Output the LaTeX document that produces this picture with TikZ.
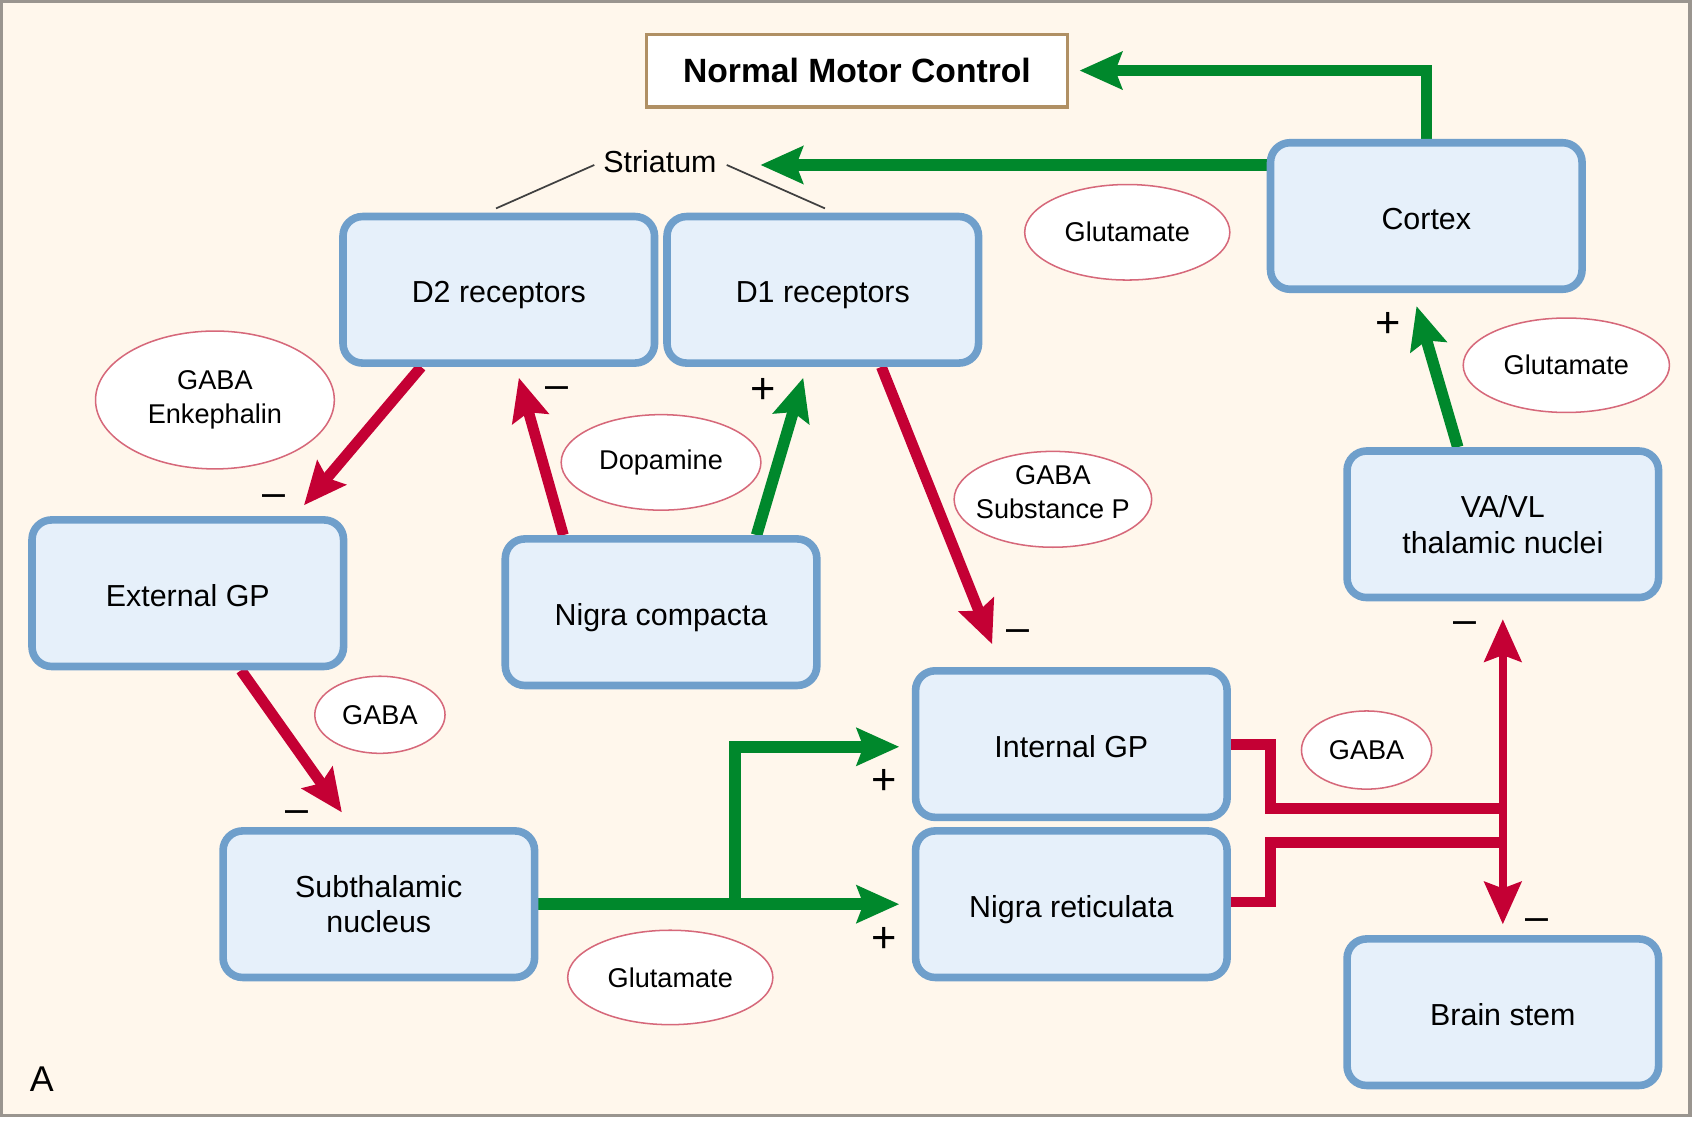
\documentclass[tikz,border=0pt]{standalone}
\usepackage{fontspec}
\setmainfont{Liberation Sans}
\usetikzlibrary{arrows.meta,calc,shapes.geometric}
\pgfdeclarelayer{bottom}
\pgfdeclarelayer{background}
\pgfsetlayers{bottom,background,main}
\definecolor{cream}{HTML}{FFF7EC}
\definecolor{boxfill}{HTML}{E6F0FA}
\definecolor{boxblue}{HTML}{6F9FCB}
\definecolor{ggreen}{HTML}{00882C}
\definecolor{rred}{HTML}{C40034}
\definecolor{ellred}{HTML}{D6687A}
\definecolor{tan}{HTML}{B09064}
\definecolor{framegrey}{HTML}{9A958F}
\tikzset{
  box/.style={draw=boxblue, line width=3.5pt, fill=boxfill, rounded corners=9pt,
    minimum width=143.5pt, minimum height=67.5pt, inner sep=0pt, align=center,
    font=\fontsize{14}{16.5}\selectfont},
  oneline/.style={text height=12pt, text depth=0pt},
  ell/.style={ellipse, draw=ellred, line width=0.7pt, fill=white, inner sep=0pt,
    align=center, font=\fontsize{12.5}{15.5}\selectfont},
  nmcbox/.style={draw=tan, line width=1.5pt, fill=white, minimum width=194pt,
    minimum height=33.5pt, inner sep=0pt, font=\bfseries\fontsize{15.5}{18}\selectfont},
  plussign/.style={inner sep=0pt, font=\fontsize{20}{20}\selectfont},
  minussign/.style={inner sep=0pt, font=\fontsize{19}{19}\selectfont},
  thinline/.style={draw=black!75, line width=0.8pt},
  garrow/.style={draw=ggreen, line width=5.3pt, line join=miter,
    -{Stealth[length=19.5pt,width=17pt,inset=3pt]}},
  rarrow/.style={draw=rred, line width=5pt,
    -{Stealth[length=19.5pt,width=17pt,inset=3pt]}},
  rline/.style={draw=rred, line width=5pt, line join=miter},
  rdouble/.style={draw=rred, line width=3.5pt,
    {Stealth[length=19.5pt,width=17pt,inset=3pt]}-{Stealth[length=19.5pt,width=17pt,inset=3pt]}}
}
\begin{document}
\begin{tikzpicture}[x=0.5pt,y=-0.5pt]
\useasboundingbox (0,0) rectangle (1568,1036);
\begin{pgfonlayer}{bottom}
  \fill[white] (0,0) rectangle (1568,1036);
  \filldraw[fill=cream, draw=framegrey, line width=1.5pt] (1.5,1.5) rectangle (1557,1027.5);
\end{pgfonlayer}

% boxes
\node[nmcbox] (nmc) at (789.5,65) {Normal Motor Control};
\node[box, oneline] (d2) at (459.5,267) {D2 receptors};
\node[box, oneline] (d1) at (758,267) {D1 receptors};
\node[box, oneline] (cortex) at (1314,199) {Cortex};
\node[box, oneline] (extgp) at (173,546.5) {External GP};
\node[box, oneline] (nc) at (609,564) {Nigra compacta};
\node[box] (vavl) at (1384.5,483) {VA/VL\\thalamic nuclei};
\node[box, oneline] (igp) at (987,685.5) {Internal GP};
\node[box, oneline] (nr) at (987,833) {Nigra reticulata};
\node[box] (stn) at (349,833) {Subthalamic\\nucleus};
\node[box, oneline] (bs) at (1384.5,932.5) {Brain stem};

% ellipses
\node[ell, minimum width=94.5pt, minimum height=44pt] (glut1) at (1038.5,214) {Glutamate};
\node[ell, minimum width=95pt, minimum height=43.5pt] (glut2) at (1443,336.5) {Glutamate};
\node[ell, minimum width=110pt, minimum height=63.5pt] (gabaenk) at (198,368.5) {GABA\\Enkephalin};
\node[ell, minimum width=92pt, minimum height=44pt] (dopa) at (609,426) {Dopamine};
\node[ell, inner xsep=-3.4pt, minimum width=91pt, minimum height=43pt, text depth=7pt] (gabasp) at (970,460) {GABA\\Substance P};
\node[ell, minimum width=60pt, minimum height=35.5pt] (gaba1) at (350,658.5) {GABA};
\node[ell, minimum width=60pt, minimum height=36pt] (gaba2) at (1259,691) {GABA};
\node[ell, minimum width=94.5pt, minimum height=43.5pt] (glut3) at (617.5,900.5) {Glutamate};

% labels
\node[inner sep=2pt, font=\fontsize{14}{16}\selectfont] (striatum) at (608,149) {Striatum};
\node[inner sep=0pt, font=\fontsize{16.5}{18}\selectfont] (lblA) at (38.5,994) {A};

\node[plussign] (p1) at (1279,299) {+};
\node[plussign] (p2) at (703,360) {+};
\node[plussign] (p3) at (815,720) {+};
\node[plussign] (p4) at (815,866) {+};
\node[minussign] (m1) at (513,362) {–};
\node[minussign] (m2) at (252,461) {–};
\node[minussign] (m3) at (938,586) {–};
\node[minussign] (m4) at (274,752) {–};
\node[minussign] (m5) at (1350,578) {–};
\node[minussign] (m6) at (1416,852) {–};

\coordinate (br) at (677,833);
\coordinate (jA) at (1384.5,745);
\coordinate (jB) at (1384.5,776);

\begin{pgfonlayer}{background}
  % striatum lines
  \draw[thinline] ($(striatum.west)+(-4,3)$) -- ($(d2.north)+(-2.5,-4)$);
  \draw[thinline] ($(striatum.east)+(5,3)$) -- ($(d1.north)+(2,-4)$);
  % green
  \draw[garrow] (cortex.north) |- ($(nmc.east)+(9.5,0)$);
  \draw[garrow] ($(cortex.west)+(0,-47)$) -- ($(striatum.east)+(36,3)$);
  \draw[garrow] ($(vavl.north)+(-41.5,0)$) -- ($(cortex.south)+(-9,12)$);
  \draw[garrow] ($(nc.north)+(88,0)$) -- ($(d1.south)+(-18,10)$);
  \draw[garrow] (stn.east) -- ($(nr.west)+(-11.5,0)$);
  \draw[garrow] (br) |- ($(igp.west)+(-11.5,2.5)$);
  % red
  \draw[rarrow] ($(nc.north)+(-90,0)$) -- ($(d2.south)+(18.5,10)$);
  \draw[rarrow] ($(d2.south)+(-71.5,0)$) -- ($(extgp.north)+(107,-10)$);
  \draw[rarrow] ($(d1.south)+(54,0)$) -- ($(igp.north)+(-73,-21)$);
  \draw[rarrow] ($(extgp.south)+(49,0)$) -- ($(stn.north)+(-34,-13.5)$);
  \draw[rline] (igp.east) -- ++(36.5,0) |- (jA);
  \draw[rline] ($(nr.east)+(0,-2)$) -- ++(36.5,0) |- (jB);
  \draw[rdouble] ($(vavl.south)+(0,16.5)$) -- ($(bs.north)+(0,-10)$);
\end{pgfonlayer}
\end{tikzpicture}
\end{document}
